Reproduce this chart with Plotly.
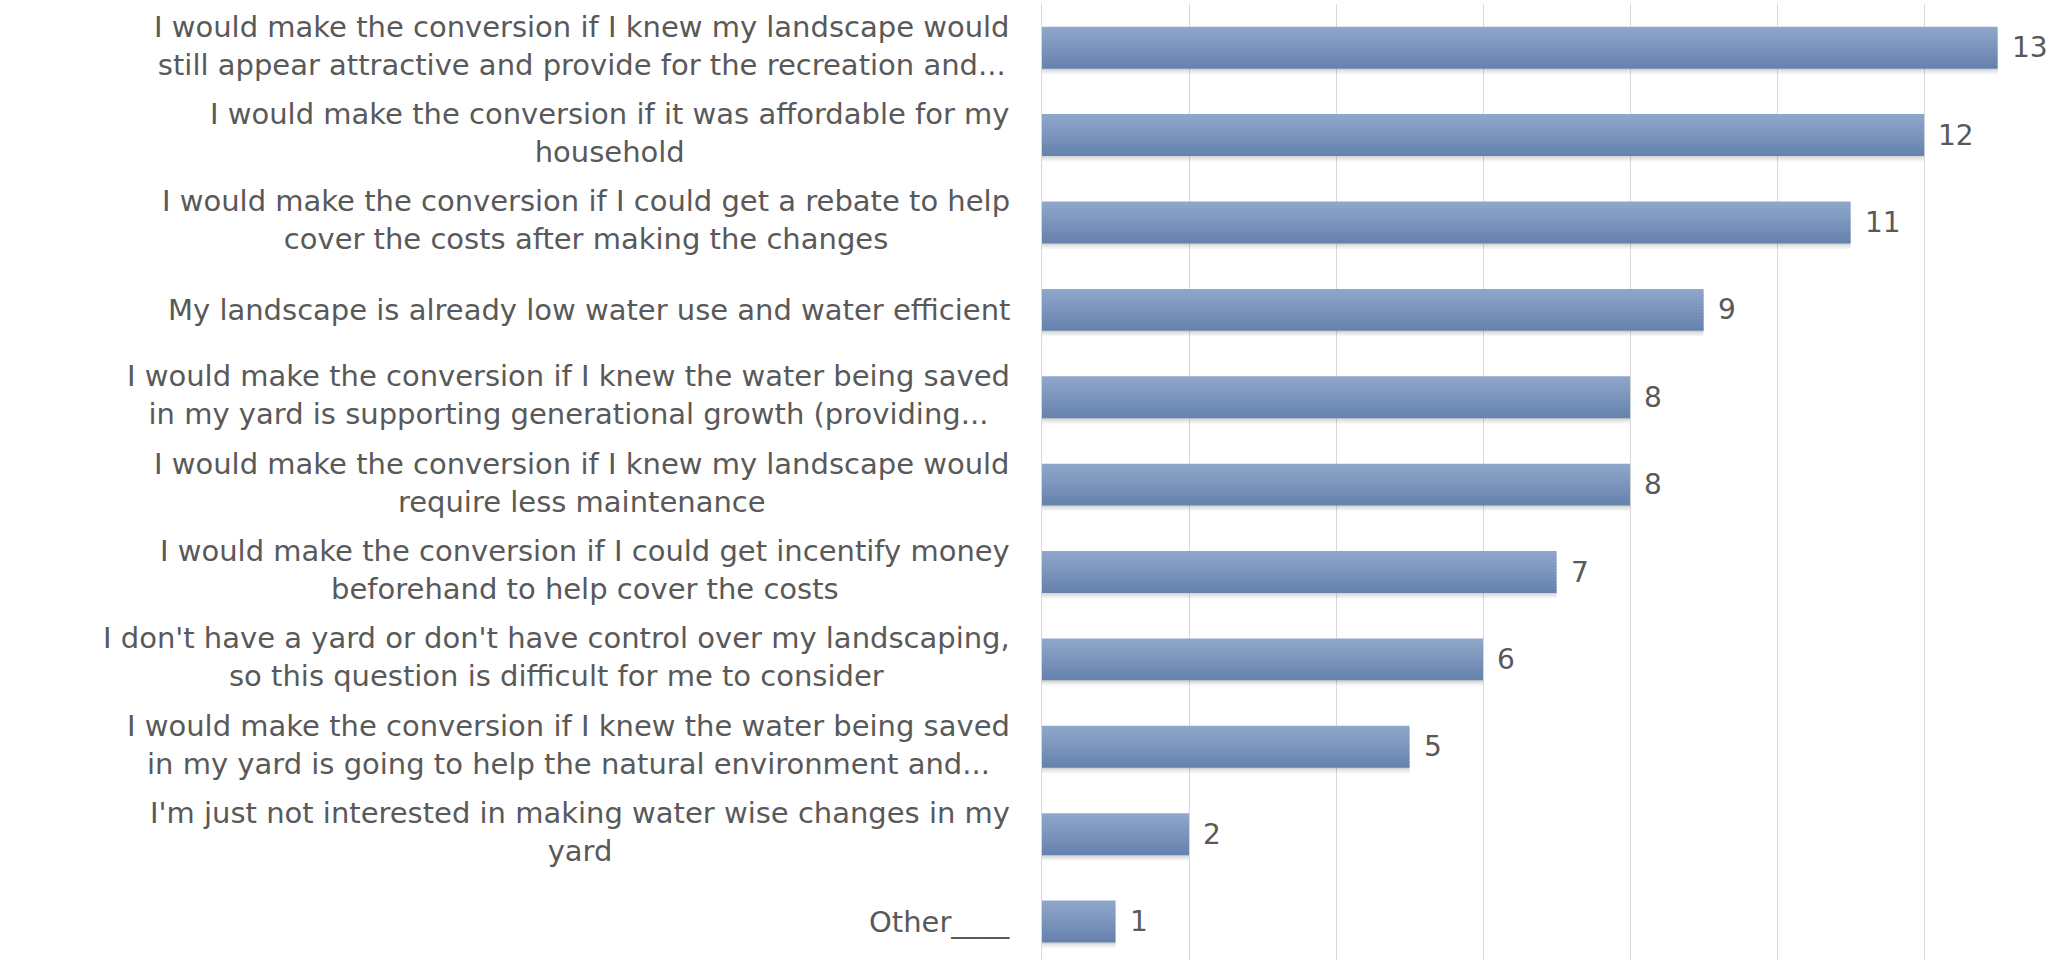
import plotly.graph_objects as go

# Survey responses (one row per answer option)
labels = [
    "I would make the conversion if I knew my landscape would<br>still appear attractive and provide for the recreation and...",
    "I would make the conversion if it was affordable for my<br>household",
    "I would make the conversion if I could get a rebate to help<br>cover the costs after making the changes",
    "My landscape is already low water use and water efficient",
    "I would make the conversion if I knew the water being saved<br>in my yard is supporting generational growth (providing...",
    "I would make the conversion if I knew my landscape would<br>require less maintenance",
    "I would make the conversion if I could get incentify money<br>beforehand to help cover the costs",
    "I don't have a yard or don't have control over my landscaping,<br>so this question is difficult for me to consider",
    "I would make the conversion if I knew the water being saved<br>in my yard is going to help the natural environment and...",
    "I'm just not interested in making water wise changes in my<br>yard",
    "Other____",
]
counts = [13, 12, 11, 9, 8, 8, 7, 6, 5, 2, 1]

FONT = "DejaVu Sans"
TEXT_COLOR = "#595959"
FONT_SIZE = 29
VALUE_SIZE = 28

BAR_W = 0.48
TOP_RGB = (0x8F, 0xA6, 0xCA)
BOT_RGB = (0x66, 0x83, 0xAE)
N_STRIPES = 14

fig = go.Figure()

# soft drop shadow under each bar
shadow_steps = [(0.000, 0.030, 0.22), (0.030, 0.025, 0.12), (0.055, 0.020, 0.05)]
for start, w, a in shadow_steps:
    fig.add_trace(go.Bar(
        x=counts, y=labels, orientation="h",
        offset=BAR_W / 2 + start - 0.012, width=w,
        marker=dict(color=f"rgba(60,60,60,{a})", line_width=0),
        hoverinfo="skip", showlegend=False,
    ))

# vertical gradient fill built from thin horizontal stripes
stripe = BAR_W / N_STRIPES
for k in range(N_STRIPES):
    t = k / (N_STRIPES - 1)
    r, g, b = (round(TOP_RGB[i] + (BOT_RGB[i] - TOP_RGB[i]) * t) for i in range(3))
    fig.add_trace(go.Bar(
        x=counts, y=labels, orientation="h",
        offset=-BAR_W / 2 + k * stripe, width=stripe * 1.35 if k < N_STRIPES - 1 else stripe,
        marker=dict(color=f"rgb({r},{g},{b})", line_width=0),
        hoverinfo="skip", showlegend=False,
    ))

annotations = []
for lab, val in zip(labels, counts):
    # category label, lines centred within a right-aligned block
    annotations.append(dict(
        x=0, xref="paper", xanchor="right", xshift=-30,
        y=lab, yref="y", yanchor="middle", yshift=2 if "<br>" in lab else 0,
        text=lab, align="center", showarrow=False,
        font=dict(family=FONT, size=FONT_SIZE, color=TEXT_COLOR),
    ))
    # value label just past the bar end
    annotations.append(dict(
        x=val, xref="x", xanchor="left", xshift=12,
        y=lab, yref="y", yanchor="middle",
        text=str(val), showarrow=False,
        font=dict(family=FONT, size=VALUE_SIZE, color=TEXT_COLOR),
    ))

fig.update_layout(
    width=2066, height=960,
    margin=dict(l=1042, r=0, t=4, b=0),
    paper_bgcolor="white", plot_bgcolor="white",
    barmode="overlay",
    showlegend=False,
    annotations=annotations,
    xaxis=dict(
        range=[0, 13.93], dtick=2, showticklabels=False,
        showgrid=True, gridcolor="#D9D9D9", gridwidth=1.3,
        zeroline=False, showline=False,
    ),
    yaxis=dict(
        type="category", categoryorder="array", categoryarray=labels,
        range=[10.44, -0.5], showticklabels=False,
        showgrid=False, zeroline=False,
        showline=True, linecolor="#D9D9D9", linewidth=1.3,
    ),
)

fig.write_html("out.html")
